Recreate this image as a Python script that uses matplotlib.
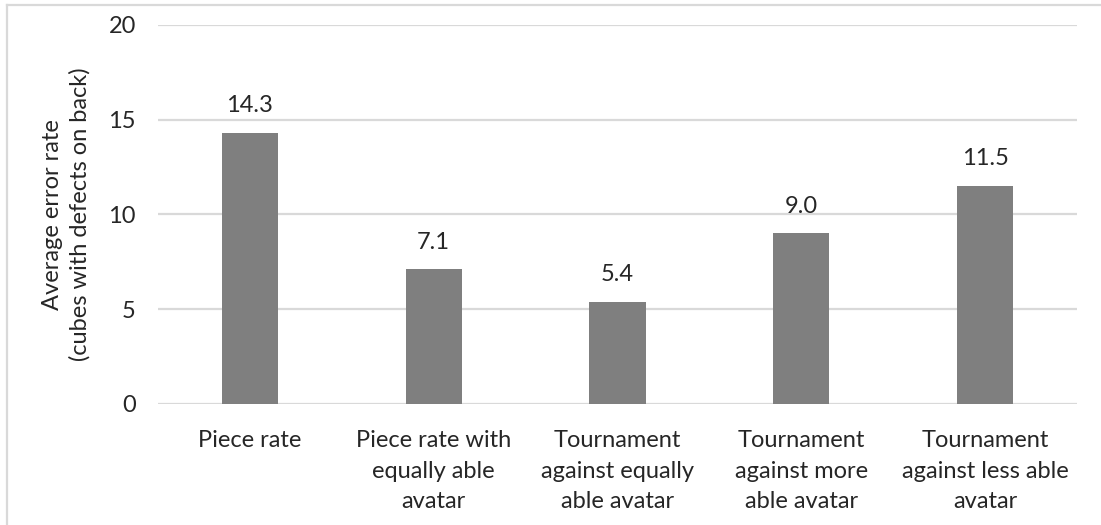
import matplotlib
matplotlib.use("Agg")
import matplotlib.pyplot as plt
from matplotlib.lines import Line2D

categories = [
    "Piece rate",
    "Piece rate with\nequally able\navatar",
    "Tournament\nagainst equally\nable avatar",
    "Tournament\nagainst more\nable avatar",
    "Tournament\nagainst less able\navatar",
]
error_rates = [14.3, 7.1, 5.4, 9.0, 11.5]
y_ticks = [0, 5, 10, 15, 20]

plt.rcParams["font.family"] = ["Lato", "DejaVu Sans"]
text_color = "#262626"
grid_color = "#d9d9d9"
bar_color = "#7f7f7f"
fs = 17

fig = plt.figure(figsize=(11.01, 5.25), dpi=100)
ax = fig.add_axes([158 / 1101, 1 - 404 / 525, (1077 - 158) / 1101, (404 - 25) / 525])

x = range(len(categories))
bars = ax.bar(x, error_rates, width=0.305, color=bar_color, zorder=3)
for rect, v in zip(bars, error_rates):
    ax.annotate(f"{v:.1f}", (rect.get_x() + rect.get_width() / 2, v),
                xytext=(0, 12), textcoords="offset points",
                ha="center", va="bottom", fontsize=fs, color=text_color)

ax.set_xlim(-0.5, len(categories) - 0.5)
ax.set_ylim(0, 20)
ax.set_yticks(y_ticks)
ax.set_xticks(list(x))
ax.set_xticklabels(categories, fontsize=fs, color=text_color, linespacing=1.55,
                   va="top")
ax.tick_params(axis="y", labelsize=fs, colors=text_color, length=0, pad=16)
ax.tick_params(axis="x", length=0, pad=19)
ax.grid(axis="y", color=grid_color, linewidth=1.6, zorder=0)
for s in ax.spines.values():
    s.set_visible(False)

ax.set_ylabel("Average error rate\n(cubes with defects on back)", fontsize=fs,
              color=text_color, linespacing=1.35, labelpad=13)

# outer chart frame
fig.add_artist(Line2D([7 / 1101, 7 / 1101], [0, 1 - 5 / 525],
                      transform=fig.transFigure, color=grid_color, linewidth=1.6))
fig.add_artist(Line2D([7 / 1101, 1], [1 - 5 / 525, 1 - 5 / 525],
                      transform=fig.transFigure, color=grid_color, linewidth=1.6))

fig.savefig("out.png", dpi=100)
